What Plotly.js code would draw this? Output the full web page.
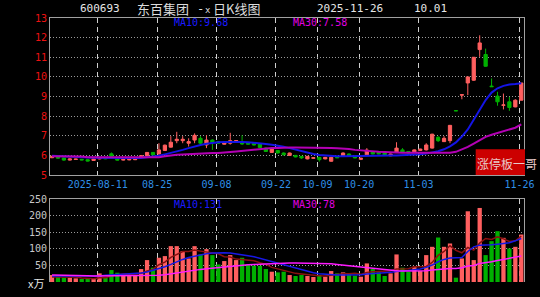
<!DOCTYPE html>
<html><head><meta charset="utf-8">
<script src="https://cdn.plot.ly/plotly-3.0.1.min.js"></script>
<style>html,body{margin:0;padding:0;background:#000;overflow:hidden}#chart{width:540px;height:297px}</style>
</head><body><div id="chart"></div>
<script>
const dates = ['2025-07-30','2025-07-31','2025-08-01','2025-08-04','2025-08-05','2025-08-06','2025-08-07','2025-08-08',
'2025-08-11','2025-08-12','2025-08-13','2025-08-14','2025-08-15','2025-08-18','2025-08-19','2025-08-20','2025-08-21','2025-08-22',
'2025-08-25','2025-08-26','2025-08-27','2025-08-28','2025-08-29','2025-09-01','2025-09-02','2025-09-03','2025-09-04','2025-09-05',
'2025-09-08','2025-09-09','2025-09-10','2025-09-11','2025-09-12','2025-09-15','2025-09-16','2025-09-17','2025-09-18','2025-09-19',
'2025-09-22','2025-09-23','2025-09-24','2025-09-25','2025-09-26','2025-09-29','2025-09-30',
'2025-10-09','2025-10-10','2025-10-13','2025-10-14','2025-10-15','2025-10-16','2025-10-17',
'2025-10-20','2025-10-21','2025-10-22','2025-10-23','2025-10-24','2025-10-27','2025-10-28','2025-10-29','2025-10-30','2025-10-31',
'2025-11-03','2025-11-04','2025-11-05','2025-11-06','2025-11-07','2025-11-10','2025-11-11','2025-11-12','2025-11-13','2025-11-14',
'2025-11-17','2025-11-18','2025-11-19','2025-11-20','2025-11-21','2025-11-24','2025-11-25','2025-11-26'];

const openP = [5.88,5.92,5.87,5.76,5.79,5.80,5.78,5.74,5.82,5.87,6.08,5.82,5.76,5.77,5.78,5.92,5.98,6.15,6.07,6.25,
6.42,6.75,6.75,6.62,6.78,6.87,6.53,6.78,6.70,6.57,6.62,6.70,6.70,6.65,6.62,6.58,6.37,6.15,6.25,6.12,
6.00,6.00,5.95,5.82,5.85,5.90,5.82,5.70,5.92,6.00,6.07,5.95,5.80,6.03,6.17,6.15,6.12,5.98,6.15,6.28,
6.20,6.18,6.25,6.28,6.37,6.92,6.70,6.75,8.28,9.07,9.69,9.83,11.39,11.14,9.53,9.02,8.55,8.73,8.47,8.81];
const highP = [5.98,5.94,5.88,5.84,5.83,5.82,5.80,5.84,5.88,5.90,6.15,5.84,5.81,5.81,5.82,6.00,6.17,6.17,6.62,6.55,
6.98,7.20,6.98,6.87,7.12,6.98,7.03,6.82,6.72,6.68,7.15,6.78,7.03,6.67,6.64,6.60,6.40,6.35,6.27,6.15,
6.14,6.02,5.97,5.97,5.90,5.92,5.92,5.93,5.94,6.15,6.10,5.97,5.88,6.37,6.20,6.17,6.14,6.09,6.67,6.37,
6.22,6.30,6.34,6.62,7.10,6.98,6.98,7.55,8.28,9.09,10.00,11.00,12.12,11.44,9.92,9.24,9.15,8.98,8.86,9.69];
const lowP = [5.86,5.84,5.72,5.74,5.77,5.75,5.69,5.72,5.80,5.81,5.94,5.74,5.74,5.75,5.76,5.90,5.96,6.00,6.05,6.22,
6.40,6.62,6.62,6.45,6.62,6.53,6.37,6.28,6.58,6.55,6.55,6.68,6.53,6.55,6.50,6.38,6.18,6.13,6.10,6.00,
5.98,5.90,5.82,5.80,5.83,5.68,5.80,5.68,5.86,5.98,5.98,5.85,5.76,6.00,6.05,6.05,5.98,5.96,6.12,6.13,
6.10,6.16,6.23,6.25,6.35,6.68,6.68,6.62,8.27,8.86,9.07,9.80,11.02,10.52,9.49,8.53,8.34,8.27,8.45,8.80];
const closeP = [5.95,5.86,5.76,5.82,5.81,5.77,5.71,5.82,5.86,5.83,5.96,5.76,5.79,5.80,5.80,5.98,6.15,6.02,6.28,6.52,
6.67,6.82,6.82,6.70,7.02,6.62,6.78,6.65,6.62,6.65,6.75,6.75,6.58,6.57,6.53,6.40,6.20,6.32,6.12,6.03,
6.12,5.92,5.87,5.95,5.88,5.78,5.90,5.90,5.88,6.12,6.00,5.87,5.85,6.27,6.07,6.07,6.00,6.07,6.37,6.15,
6.12,6.28,6.32,6.53,7.08,6.75,6.87,7.53,8.27,9.09,10.00,11.00,11.73,10.54,9.50,8.73,8.57,8.44,8.81,9.69];

const ma10P = [5.98,5.96,5.94,5.93,5.92,5.91,5.89,5.88,5.87,5.87,5.87,5.86,5.86,5.86,5.86,5.87,5.90,5.93,5.98,6.05,
6.12,6.20,6.28,6.37,6.46,6.53,6.59,6.64,6.67,6.68,6.69,6.69,6.68,6.67,6.65,6.62,6.58,6.54,6.50,6.44,
6.37,6.29,6.21,6.14,6.07,6.02,5.99,5.97,5.96,5.96,5.96,5.96,5.96,5.98,5.99,5.99,5.99,5.99,6.00,6.01,
6.02,6.04,6.06,6.09,6.14,6.21,6.31,6.46,6.66,6.96,7.32,7.80,8.30,8.82,9.20,9.42,9.54,9.61,9.64,9.68];
const ma30P = [5.95,5.95,5.95,5.95,5.95,5.94,5.91,5.90,5.90,5.90,5.90,5.90,5.90,5.90,5.90,5.90,5.90,5.90,5.91,5.95,
6.00,6.03,6.05,6.07,6.08,6.10,6.11,6.12,6.12,6.13,6.17,6.20,6.23,6.27,6.30,6.33,6.35,6.37,6.38,6.40,
6.40,6.40,6.40,6.39,6.39,6.38,6.38,6.37,6.36,6.35,6.32,6.28,6.25,6.22,6.20,6.18,6.17,6.15,6.14,6.13,
6.13,6.13,6.12,6.12,6.12,6.12,6.12,6.13,6.18,6.30,6.43,6.60,6.79,6.94,7.05,7.14,7.23,7.31,7.41,7.58];

const volume = [21,16,13,13,11,9,9,9,26,13,36,28,19,21,21,39,66,43,73,78,
108,108,93,71,108,83,99,81,53,63,81,66,73,53,49,49,39,31,29,31,
21,18,21,18,15,21,16,33,26,29,23,19,16,56,39,29,18,26,83,43,
31,46,33,81,106,134,106,116,13,71,213,66,223,81,123,153,133,101,106,143];
const ma5V = [15,15,15,15,15,12,11,10,13,13,19,22,24,23,25,26,33,38,52,60,
74,82,92,92,96,93,91,88,85,76,75,69,67,67,64,58,53,44,39,36,
30,26,24,22,19,19,18,21,22,25,25,26,23,29,31,32,32,34,39,40,
40,46,47,47,59,80,92,109,95,88,104,96,117,131,128,136,130,122,124,138];
const ma10V = [18,18,17,17,16,16,16,17,18,20,21,22,23,24,25,27,30,35,40,46,
53,61,68,74,78,82,85,87,88,88,87,85,82,79,76,71,66,61,56,51,
46,41,36,32,28,25,23,22,21,21,21,21,22,24,26,27,28,29,32,34,
35,37,39,44,51,61,68,72,72,74,92,106,111,111,112,114,116,118,124,131];
const ma30V = [21,21,21,21,21,20,19,18,18,18,18,18,18,18,18,18,18,19,20,22,
25,28,31,33,36,38,40,42,43,45,47,49,50,52,53,54,55,56,57,57,
57,57,57,57,57,57,56,55,53,51,48,46,44,42,40,38,36,35,34,33,
33,33,33,34,36,38,39,41,41,43,48,50,56,58,61,65,68,70,73,78];

const tickDates = ['2025-08-11','2025-08-25','2025-09-08','2025-09-22','2025-10-09','2025-10-20','2025-11-03','2025-11-26'];
const tickLabels = ['2025-08-11','08-25','09-08','09-22','10-09','10-20','11-03','11-26'];
const priceTicks = [5,6,7,8,9,10,11,12,13];
const volTicks = [50,100,150,200,250];

const idx = dates.map((d,i)=>i);
const tickPos = tickDates.map(d => dates.indexOf(d) - 0.3);
const UP = '#ff5f5f', DOWN = '#00b000';
const volColors = closeP.map((c,i)=> c > openP[i] ? UP : DOWN);

const mono = 'DejaVu Sans Mono';
const cjk = 'Noto Sans CJK SC';
const L = 50, R = 524, T = 18, B = 282;
const PX = x => (x - L) / (R - L);
const PY = y => (B - y) / (B - T);

const traces = [
  {type:'candlestick', x:idx, open:openP, high:highP, low:lowP, close:closeP, xaxis:'x', yaxis:'y',
   increasing:{line:{color:UP,width:1}, fillcolor:UP}, decreasing:{line:{color:DOWN,width:1}, fillcolor:DOWN},
   whiskerwidth:0, hoverinfo:'skip', showlegend:false},
  {type:'scatter', mode:'lines', x:idx, y:ma10P, xaxis:'x', yaxis:'y', line:{color:'#1414e6', width:2}, hoverinfo:'skip', showlegend:false},
  {type:'scatter', mode:'lines', x:idx, y:ma30P, xaxis:'x', yaxis:'y', line:{color:'#b400b4', width:2}, hoverinfo:'skip', showlegend:false},
  {type:'bar', x:idx, y:volume, xaxis:'x2', yaxis:'y2', marker:{color:volColors, line:{width:0}}, hoverinfo:'skip', showlegend:false},
  {type:'scatter', mode:'lines', x:idx, y:ma5V, xaxis:'x2', yaxis:'y2', line:{color:'#8a1010', width:1.5}, hoverinfo:'skip', showlegend:false},
  {type:'scatter', mode:'lines', x:idx, y:ma10V, xaxis:'x2', yaxis:'y2', line:{color:'#1818e6', width:1.5}, hoverinfo:'skip', showlegend:false},
  {type:'scatter', mode:'lines', x:idx, y:ma30V, xaxis:'x2', yaxis:'y2', line:{color:'#ff1aff', width:1.5}, hoverinfo:'skip', showlegend:false}
];

const gridX = {showgrid:true, gridcolor:'#cfcfcf', griddash:'5px,4px', gridwidth:1, zeroline:false, ticks:''};
const gridY = {showgrid:true, gridcolor:'#9a9a9a', griddash:'1px,2px', gridwidth:1, zeroline:false, ticks:''};

function ann(text, x, y, color, size, family, anchor) {
  return {text:text, xref:'paper', yref:'paper', x:PX(x), y:PY(y), xanchor:anchor||'left', yanchor:'middle',
          showarrow:false, font:{color:color, size:size, family:family}, borderpad:0};
}

const layout = {
  width:540, height:297, paper_bgcolor:'#000', plot_bgcolor:'#000',
  margin:{l:L, r:540-R, t:T, b:297-B}, showlegend:false, bargap:0.28, boxgap:0.22,
  xaxis:Object.assign({domain:[0,1], anchor:'y', range:[-0.34,79.46], rangeslider:{visible:false},
    tickmode:'array', tickvals:tickPos, ticktext:tickLabels, showline:true, linecolor:'#a0a0a0', linewidth:1, mirror:true,
    tickfont:{family:mono, size:10, color:'#2f8fe6'}}, gridX),
  xaxis2:Object.assign({domain:[0,1], anchor:'y2', matches:'x', side:'top', tickmode:'array', tickvals:tickPos,
    showticklabels:false, showline:true, linecolor:'#a0a0a0', linewidth:1, mirror:false}, gridX),
  yaxis:Object.assign({domain:[(B-175)/(B-T),1], range:[5,13], tickmode:'array', tickvals:priceTicks,
    showline:true, linecolor:'#a0a0a0', linewidth:1, mirror:true,
    tickfont:{family:mono, size:10, color:'#ee1111'}}, gridY),
  yaxis2:Object.assign({domain:[0,(B-199)/(B-T)], range:[0,250], tickmode:'array', tickvals:volTicks,
    showline:true, linecolor:'#a0a0a0', linewidth:1, mirror:true,
    tickfont:{family:mono, size:10, color:'#c8c8c8'}}, gridY),
  shapes:[
    {type:'rect', xref:'paper', yref:'paper', x0:PX(475.7), x1:PX(525), y0:PY(175), y1:PY(149.3),
     fillcolor:'#cc0000', line:{width:0}, layer:'above'}
  ],
  annotations:[
    ann('600693', 79, 9, '#e6e6e6', 11, mono),
    ann('东百集团', 136, 9, '#dcdcdc', 13, cjk),
    ann('-', 196, 9, '#dcdcdc', 12, mono),
    ann('x', 204, 10, '#dcdcdc', 9, mono),
    ann('日K线图', 212, 9, '#dcdcdc', 13, cjk),
    ann('2025-11-26', 316, 9, '#e6e6e6', 11, mono),
    ann('10.01', 413, 9, '#e6e6e6', 11, mono),
    ann('MA10:9.68', 173, 23, '#1a1aff', 10, mono),
    ann('MA30:7.58', 292, 23, '#e000e0', 10, mono),
    ann('MA10:131', 173, 204, '#1a1aff', 10, mono),
    ann('MA30:78', 292, 204, '#e000e0', 10, mono),
    ann('x万', 45, 283, '#e6e6e6', 11, cjk, 'right'),
    ann('涨停板一哥', 476, 163, '#e8c8c8', 12, cjk)
  ]
};

Plotly.newPlot('chart', traces, layout, {staticPlot:true, displayModeBar:false});
</script>
</body></html>
